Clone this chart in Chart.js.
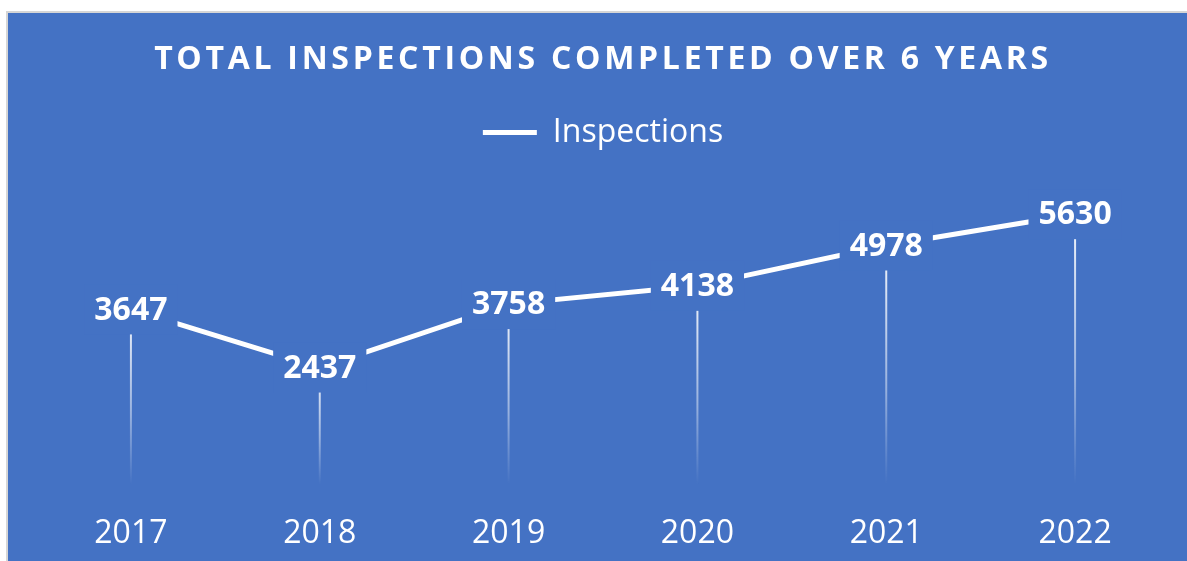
<!DOCTYPE html>
<html>
<head>
<meta charset="utf-8">
<script src="https://cdn.jsdelivr.net/npm/chart.js@4/dist/chart.umd.min.js"></script>
<style>
    body { margin: 0; background: #fff; overflow: hidden; }
    .chart-box {
        position: absolute;
        left: 6px;
        top: 11px;
        border-left: 2px solid #d6d6d6;
        border-top: 2px solid #d6d6d6;
        background: #4472c4;
    }
    canvas { display: block; }
</style>
</head>
<body>
<div class="chart-box">
    <canvas id="inspectionsChart" width="1190" height="590"></canvas>
</div>
<script>
const annees = ["2017", "2018", "2019", "2020", "2021", "2022"];
const inspections = [3647, 2437, 3758, 4138, 4978, 5630];

const bleu = "#4472c4";
const police = "'Open Sans', sans-serif";

// petit espacement des lettres pour le titre
const titreEspace = {
    id: "titreEspace",
    afterInit(chart) {
        const block = chart.titleBlock;
        const draw = block.draw;
        block.draw = function () {
            chart.ctx.save();
            chart.ctx.letterSpacing = "3.7px";
            draw.apply(this, arguments);
            chart.ctx.restore();
        };
        // espace sous la légende
        const fit = chart.legend.fit;
        chart.legend.fit = function () {
            fit.call(this);
            this.height += 38;
        };
    }
};

// lignes verticales qui s'estompent vers l'axe
const lignesChute = {
    id: "lignesChute",
    beforeDatasetsDraw(chart) {
        const ctx = chart.ctx;
        const bas = chart.chartArea.bottom;
        chart.getDatasetMeta(0).data.forEach(pt => {
            const grad = ctx.createLinearGradient(0, pt.y, 0, bas);
            grad.addColorStop(0, "rgba(255,255,255,0.95)");
            grad.addColorStop(0.6, "rgba(255,255,255,0.45)");
            grad.addColorStop(1, "rgba(255,255,255,0)");
            ctx.save();
            ctx.strokeStyle = grad;
            ctx.lineWidth = 2;
            ctx.beginPath();
            ctx.moveTo(pt.x, pt.y);
            ctx.lineTo(pt.x, bas);
            ctx.stroke();
            ctx.restore();
        });
    }
};

// étiquettes de valeur centrées sur les points
const etiquettes = {
    id: "etiquettes",
    afterDatasetsDraw(chart) {
        const ctx = chart.ctx;
        ctx.save();
        ctx.font = "bold 32px " + police;
        ctx.textAlign = "center";
        ctx.textBaseline = "middle";
        chart.getDatasetMeta(0).data.forEach((pt, i) => {
            const txt = String(inspections[i]);
            const w = ctx.measureText(txt).width + 20;
            ctx.fillStyle = bleu;
            ctx.fillRect(pt.x - w / 2, pt.y - 25, w, 50);
            ctx.fillStyle = "#fff";
            ctx.fillText(txt, pt.x, pt.y + 1);
        });
        ctx.restore();
    }
};

new Chart(document.getElementById("inspectionsChart"), {
    type: "line",
    data: {
        labels: annees,
        datasets: [{
            label: "Inspections",
            data: inspections,
            borderColor: "#fff",
            borderWidth: 5,
            borderCapStyle: "round",
            pointRadius: 0,
            tension: 0
        }]
    },
    options: {
        responsive: false,
        animation: false,
        layout: { padding: { left: 28.5, right: 28.5, top: 0, bottom: 20 } },
        plugins: {
            title: {
                display: true,
                text: "TOTAL INSPECTIONS COMPLETED OVER 6 YEARS",
                color: "#fff",
                font: { family: police, size: 32, weight: "bold" },
                padding: { top: 28, bottom: 27 }
            },
            legend: {
                labels: {
                    color: "#fff",
                    font: { family: police, size: 32 },
                    usePointStyle: true,
                    pointStyle: "line",
                    pointStyleWidth: 54
                }
            },
            tooltip: { enabled: false }
        },
        scales: {
            x: {
                offset: true,
                grid: { display: false, drawTicks: false },
                border: { display: false },
                ticks: {
                    color: "#fff",
                    padding: 30,
                    font: { family: police, size: 32 }
                }
            },
            y: {
                display: false,
                min: 0,
                max: 6000
            }
        }
    },
    plugins: [titreEspace, lignesChute, etiquettes]
});
</script>
</body>
</html>
